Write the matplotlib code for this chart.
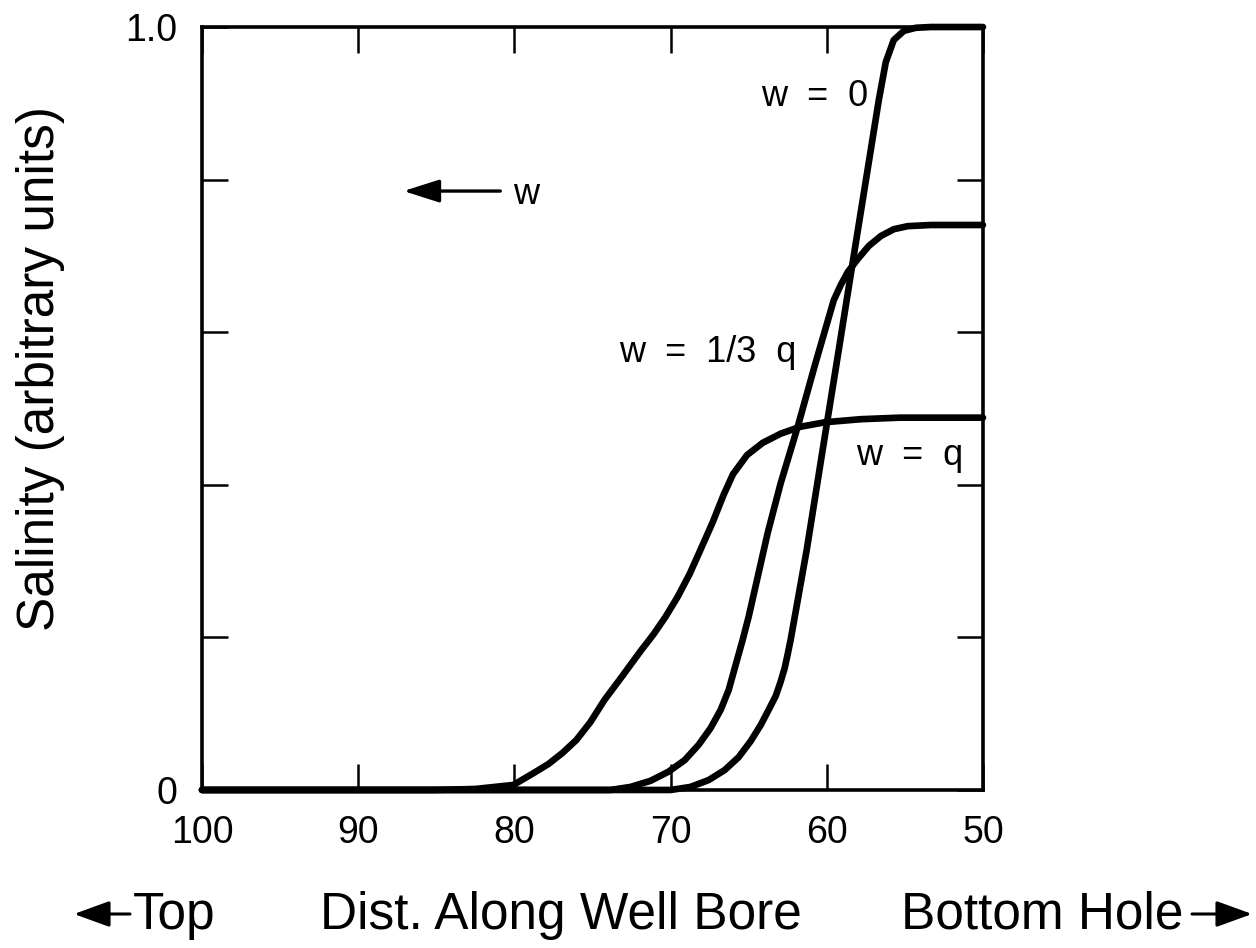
import numpy as np
import matplotlib.pyplot as plt

x_w0 = [100, 70.0, 68.72, 67.56, 66.54, 65.64, 64.87, 64.23, 63.72, 63.27, 62.95, 62.69, 62.5, 62.31,
        61.28, 60.26, 59.23, 58.21, 57.18, 56.67, 56.22, 55.71, 55.06, 54.29, 53.33, 50]
y_w0 = [0, 0, 0.004, 0.013, 0.026, 0.043, 0.064, 0.085, 0.105, 0.123, 0.142, 0.160, 0.178, 0.197,
        0.315, 0.446, 0.577, 0.708, 0.839, 0.904, 0.954, 0.983, 0.995, 0.999, 1.0, 1.0]

x_w13 = [100, 73.85, 72.56, 71.28, 70.13, 69.10, 68.21, 67.44, 66.79, 66.28, 65.83, 65.38, 65.0,
         63.78, 62.95, 61.86, 60.77, 59.55, 59.10, 58.65, 58.01, 57.31, 56.54, 55.71, 54.81, 53.33, 50]
y_w13 = [0, 0, 0.004, 0.012, 0.024, 0.039, 0.059, 0.081, 0.105, 0.131, 0.164, 0.197, 0.227,
         0.337, 0.402, 0.476, 0.556, 0.642, 0.662, 0.679, 0.696, 0.713, 0.726, 0.735, 0.739, 0.7405, 0.7405]

x_wq = [100, 85.19, 82.5, 80.06, 78.78, 77.82, 76.92, 76.03, 75.13, 74.23, 73.1, 71.92, 71.09, 70.32,
        69.55, 68.78, 68.08, 67.3, 66.6, 66.0, 65.1, 64.1, 62.95, 61.7, 60.1, 57.8, 55.3, 50]
y_wq = [0, 0, 0.0013, 0.0066, 0.022, 0.034, 0.0485, 0.0655, 0.089, 0.118, 0.149, 0.182, 0.204, 0.227,
        0.253, 0.283, 0.315, 0.351, 0.387, 0.414, 0.439, 0.455, 0.467, 0.476, 0.482, 0.486, 0.488, 0.488]

xticks = [100, 90, 80, 70, 60, 50]
yticks = [0, 0.2, 0.4, 0.6, 0.8, 1.0]
ytick_labels = ['0', '', '', '', '', '1.0']

plt.rcParams['font.family'] = ['Liberation Sans', 'DejaVu Sans']

fig = plt.figure(figsize=(12.56, 9.48), dpi=100)
ax = fig.add_axes([0.1608, 0.1667, 0.6218, 0.8048])

for xs, ys in [(x_w0, y_w0), (x_w13, y_w13), (x_wq, y_wq)]:
    ax.plot(xs, ys, color='black', lw=4.8, solid_capstyle='round', solid_joinstyle='round', clip_on=False)

ax.set_xlim(100, 50)
ax.set_ylim(0, 1.0)
ax.set_xticks(xticks)
ax.set_xticklabels([str(t) for t in xticks])
ax.set_yticks(yticks)
ax.set_yticklabels(ytick_labels)
ax.tick_params(direction='in', length=19, width=1.8, top=True, right=True, labelsize=27, pad=18)
for s in ax.spines.values():
    s.set_linewidth(2.6)

# curve labels
ax.text(64.2, 0.909, 'w  =  0', fontsize=26, va='center', ha='left')
ax.text(73.3, 0.574, 'w  =  1/3  q', fontsize=26, va='center', ha='left')
ax.text(58.1, 0.439, 'w  =  q', fontsize=26, va='center', ha='left')
ax.text(80.1, 0.78, 'w', fontsize=26, va='center', ha='left')
ax.annotate('', xy=(87.1, 0.785), xytext=(80.9, 0.785),
            arrowprops=dict(arrowstyle='-|>,head_length=1.1,head_width=0.35', mutation_scale=20,
                            color='black', lw=2.4, shrinkA=0, shrinkB=0))

# bottom captions
fig.text(133 / 1256, 0.0348, 'Top', fontsize=37, va='center', ha='left')
fig.text(320 / 1256, 0.0348, 'Dist. Along Well Bore', fontsize=37, va='center', ha='left')
fig.text(901 / 1256, 0.0348, 'Bottom Hole', fontsize=37, va='center', ha='left')
ax.annotate('', xy=(74, 34), xytext=(130, 34), xycoords='figure pixels', textcoords='figure pixels',
            arrowprops=dict(arrowstyle='-|>,head_length=1.1,head_width=0.4', mutation_scale=20,
                            color='black', lw=2.2, shrinkA=0, shrinkB=0))
ax.annotate('', xy=(1252, 34), xytext=(1192, 34), xycoords='figure pixels', textcoords='figure pixels',
            arrowprops=dict(arrowstyle='-|>,head_length=1.1,head_width=0.4', mutation_scale=20,
                            color='black', lw=2.2, shrinkA=0, shrinkB=0))

fig.text(41 / 1256, (948 - 369) / 948, 'Salinity (arbitrary units)', fontsize=37,
         rotation=90, va='center', ha='center')

fig.savefig('out.png', dpi=100)
